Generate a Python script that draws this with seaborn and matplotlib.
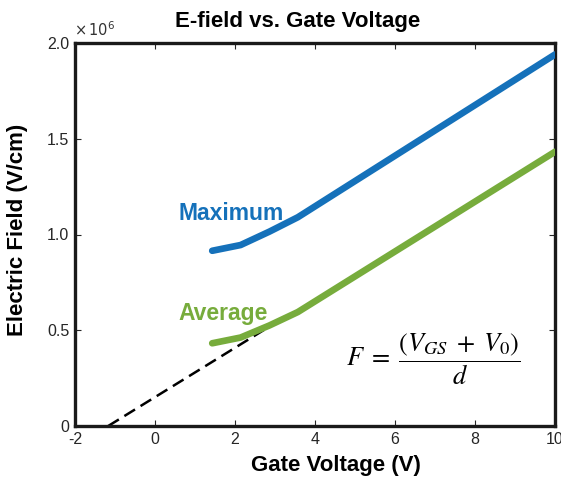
import matplotlib
matplotlib.use("Agg")
import matplotlib.pyplot as plt
from matplotlib.ticker import FixedLocator, FixedFormatter
import seaborn as sns
import pandas as pd

# Gate voltage sweep (V) and simulated fields (V/cm)
gate_v = [1.43, 2.14, 2.86, 3.57, 10.0]
field_max = [0.915e6, 0.945e6, 1.015e6, 1.09e6, 1.94e6]
field_avg = [0.432e6, 0.462e6, 0.525e6, 0.595e6, 1.432e6]

# Linear extrapolation of the average field back to zero
extrap_v = [-1.17, 2.75]
extrap_f = [0.0, 0.505e6]

x_ticks = [-2, 0, 2, 4, 6, 8, 10]
y_ticks = [0, 0.5e6, 1.0e6, 1.5e6, 2.0e6]
y_tick_labels = ["0", "0.5", "1.0", "1.5", "2.0"]

blue = "#1571BA"
green = "#77AC3C"

sns.set_style("ticks")
plt.rcParams["font.family"] = ["Liberation Sans", "DejaVu Sans"]
plt.rcParams["mathtext.fontset"] = "stix"
plt.rcParams["axes.unicode_minus"] = False

df = pd.DataFrame({"V": gate_v, "Fmax": field_max, "Favg": field_avg})
dfe = pd.DataFrame({"V": extrap_v, "F": extrap_f})

fig = plt.figure(figsize=(5.61, 4.83), dpi=100)
ax = fig.add_axes([75 / 561, 57 / 483, 480 / 561, 383 / 483])

sns.lineplot(data=dfe, x="V", y="F", ax=ax, color="black", lw=1.8,
             linestyle=(0, (5, 2.6)), zorder=2)
sns.lineplot(data=df, x="V", y="Fmax", ax=ax, color=blue, lw=4.8, zorder=3)
sns.lineplot(data=df, x="V", y="Favg", ax=ax, color=green, lw=4.8, zorder=3)

ax.set_xlim(-2, 10)
ax.set_ylim(0, 2.0e6)
ax.xaxis.set_major_locator(FixedLocator(x_ticks))
ax.yaxis.set_major_locator(FixedLocator(y_ticks))
ax.yaxis.set_major_formatter(FixedFormatter(y_tick_labels))
ax.tick_params(direction="in", top=True, right=True, length=4, width=0.8,
               labelsize=11.5, colors="#262626", pad=4)
for s in ax.spines.values():
    s.set_linewidth(2.4)
    s.set_color("#1a1a1a")
    s.set_visible(True)

ax.set_xlabel("")
ax.set_ylabel("")
fig.text(336 / 561, 1 - 466 / 483, "Gate Voltage (V)", ha="center", va="center",
         fontsize=16, fontweight="bold", color="black")
fig.text(18 / 561, 1 - 230 / 483, "Electric Field (V/cm)", ha="center", va="center",
         rotation=90, fontsize=16, fontweight="bold", color="black")
fig.text(298 / 561, 1 - 21 / 483, "E-field vs. Gate Voltage", ha="center",
         va="center", fontsize=16, fontweight="bold", color="black")
fig.text(74 / 561, 1 - 30 / 483, r"$\times\,10^{6}$", ha="left", va="center",
         fontsize=10.5, color="#333333", family="DejaVu Sans",
         math_fontfamily="dejavusans")

ax.text(0.6, 1.112e6, "Maximum", color=blue, fontsize=16.5, fontweight="bold",
        ha="left", va="center")
ax.text(0.58, 0.59e6, "Average", color=green, fontsize=16.5, fontweight="bold",
        ha="left", va="center")
ax.text(6.95, 0.35e6, r"$F\;=\;\dfrac{(V_{GS}\;+\;V_0)}{d}$", fontsize=19,
        ha="center", va="center", color="black")

fig.savefig("out.png", dpi=100)
